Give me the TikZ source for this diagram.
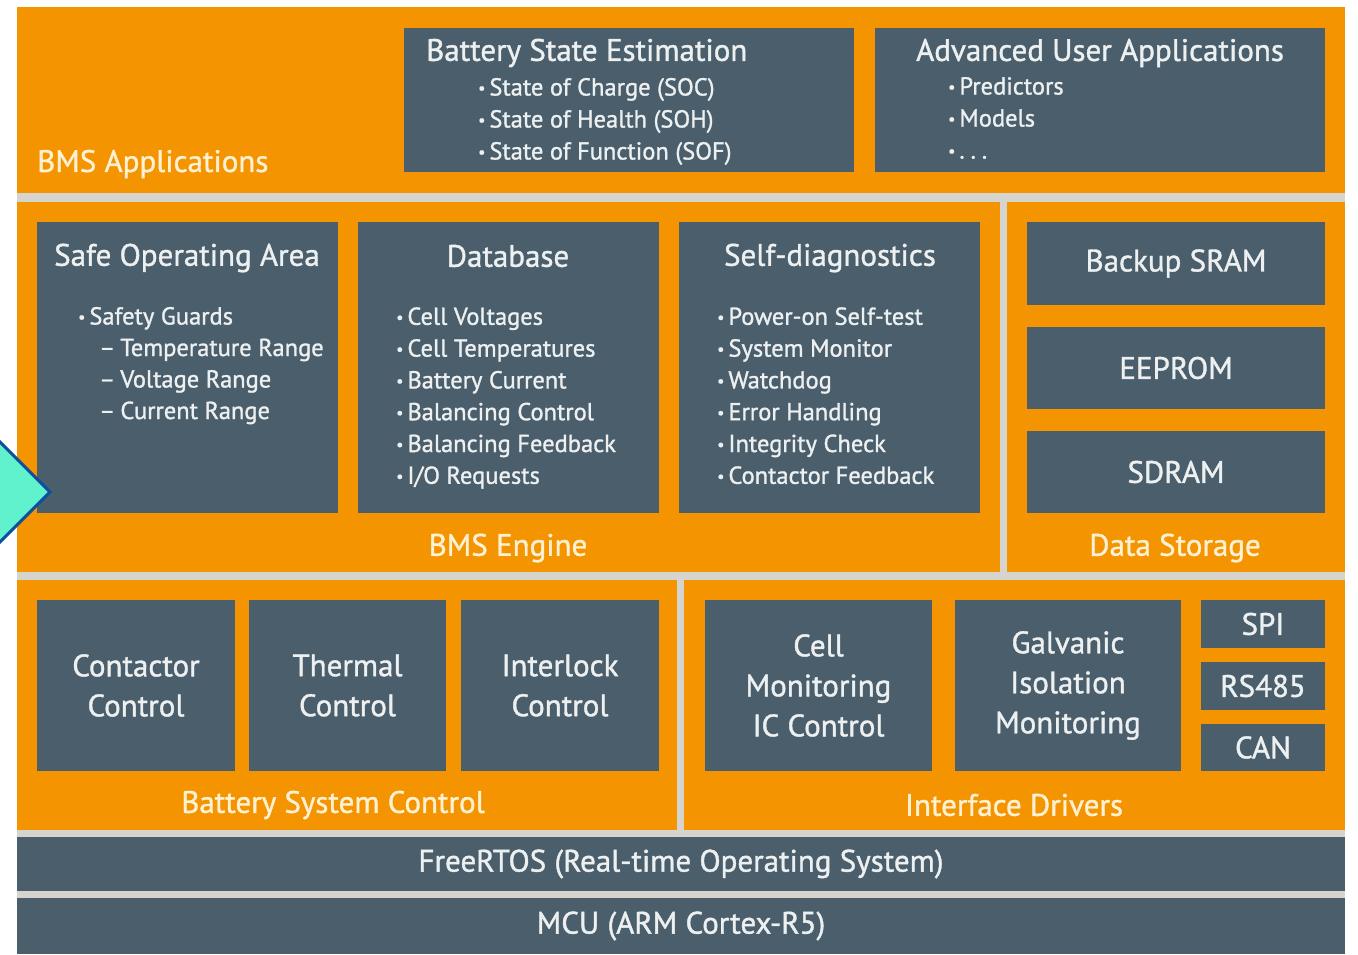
\documentclass[tikz,border=0pt]{standalone}
\usepackage{fontspec}
\setmainfont{PT Sans}[UprightFeatures={FakeBold=1.2}]
\definecolor{bmsorange}{HTML}{F39400}
\definecolor{bmsslate}{HTML}{4B5E6B}
\definecolor{bmsgap}{HTML}{D6D4CF}
\definecolor{bmscream}{HTML}{FFF1D2}
\definecolor{bmswhite}{HTML}{EDF0F1}
\definecolor{arrowfill}{HTML}{60F2CC}
\definecolor{arrowline}{HTML}{0B4F9E}
\tikzset{
  panel/.style={fill=bmsorange, draw=none, anchor=north west, inner sep=0pt, outer sep=0pt},
  blk/.style={fill=bmsslate, draw=none, anchor=north west, inner sep=0pt, outer sep=0pt,
     text=bmswhite, align=center, font=\fontsize{31}{40}\selectfont},
  title/.style={text=bmswhite, inner sep=0pt, font=\fontsize{31}{34}\selectfont},
  item/.style={text=bmswhite, inner sep=0pt, anchor=mid west, font=\fontsize{24.5}{28}\selectfont},
  plabel/.style={text=bmscream, inner sep=0pt, font=\fontsize{31}{34}\selectfont},
}
\newcommand{\bul}{{\fontsize{16}{16}\selectfont\raisebox{2pt}{•}}\hspace{4pt}}
\begin{document}
\begin{tikzpicture}[x=1pt,y=-1pt]
\useasboundingbox (0,0) rectangle (1358,954);
\fill[white] (0,0) rectangle (1358,954);
\fill[bmsgap] (17,193) rectangle (1345,954);

% panels
\node[panel, minimum width=1328pt, minimum height=186pt] (app) at (17,7) {};
\node[panel, minimum width=983pt, minimum height=370pt] (eng) at (17,202) {};
\node[panel, minimum width=338pt, minimum height=370pt] (stor) at (1007,202) {};
\node[panel, minimum width=660pt, minimum height=250pt] (bsc) at (17,580) {};
\node[panel, minimum width=661pt, minimum height=250pt] (ifd) at (684,580) {};
\node[blk, minimum width=1328pt, minimum height=54pt] (rtos) at (17,837) {FreeRTOS (Real-time Operating System)};
\node[blk, minimum width=1328pt, minimum height=56pt] (mcu) at (17,898) {MCU (ARM Cortex-R5)};

% panel labels
\node[plabel, anchor=west] (lapp) at (37,164) {BMS Applications};
\node[plabel] (leng) at (508,548) {BMS Engine};
\node[plabel] (lstor) at (1175,548) {Data Storage};
\node[plabel] (lbsc) at (333,805) {Battery System Control};
\node[plabel] (lifd) at (1014,805) {Interface Drivers};

% BMS applications boxes
\node[blk, minimum width=450pt, minimum height=144pt] (bse) at (404,28) {};
\node[title, anchor=west] (tbse) at (426,53) {Battery State Estimation};
\node[item] (bse1) at (478,93) {\bul State of Charge (SOC)};
\node[item] (bse2) at (478,125) {\bul State of Health (SOH)};
\node[item] (bse3) at (478,157) {\bul State of Function (SOF)};
\node[blk, minimum width=450pt, minimum height=144pt] (aua) at (875,28) {};
\node[title, anchor=west] (taua) at (916,53) {Advanced User Applications};
\node[item] (aua1) at (948,92) {\bul Predictors};
\node[item] (aua2) at (948,124) {\bul Models};
\node[item] (aua3) at (948,156) {\bul .\hspace{6pt}.\hspace{6pt}.};

% BMS engine boxes
\node[blk, minimum width=301pt, minimum height=291pt] (soa) at (37,222) {};
\node[title] (tsoa) at (187,258) {Safe Operating Area};
\node[item] (soa0) at (78,322) {\bul Safety Guards};
\node[item] (soa1) at (99,353.5) {–\hspace{5pt}Temperature Range};
\node[item] (soa2) at (99,385) {–\hspace{5pt}Voltage Range};
\node[item] (soa3) at (99,416.5) {–\hspace{5pt}Current Range};

\node[blk, minimum width=301pt, minimum height=291pt] (db) at (358,222) {};
\node[title] (tdb) at (508,256) {Database};
\foreach \t [count=\i] in {Cell Voltages, Cell Temperatures, Battery Current, Balancing Control, Balancing Feedback, I/O Requests}
  \node[item] (db\i) at (396,290.5+31.8*\i) {\bul\t};

\node[blk, minimum width=301pt, minimum height=291pt] (sd) at (679,222) {};
\node[title] (tsd) at (830,258) {Self-diagnostics};
\foreach \t [count=\i] in {Power-on Self-test, System Monitor, Watchdog, Error Handling, Integrity Check, Contactor Feedback}
  \node[item] (sd\i) at (717,290.5+31.8*\i) {\bul\t};

% data storage
\node[blk, minimum width=298pt, minimum height=83pt] (sram) at (1027,222) {Backup SRAM};
\node[blk, minimum width=298pt, minimum height=82pt] (eeprom) at (1027,327) {EEPROM};
\node[blk, minimum width=298pt, minimum height=82pt] (sdram) at (1027,431) {SDRAM};

% battery system control
\node[blk, minimum width=198pt, minimum height=171pt] (cc) at (37,600) {Contactor\\Control};
\node[blk, minimum width=197pt, minimum height=171pt] (tc) at (249,600) {Thermal\\Control};
\node[blk, minimum width=198pt, minimum height=171pt] (ic) at (461,600) {Interlock\\Control};

% interface drivers
\node[blk, minimum width=227pt, minimum height=171pt] (cm) at (705,600) {Cell\\Monitoring\\IC Control};
\node[blk, minimum width=226pt, minimum height=171pt] (gi) at (955,600) {Galvanic\\Isolation\\Monitoring};
\node[blk, minimum width=124pt, minimum height=48pt] (spi) at (1201,600) {SPI};
\node[blk, minimum width=124pt, minimum height=48pt] (rs) at (1201,662) {RS485};
\node[blk, minimum width=124pt, minimum height=47pt] (can) at (1201,724) {CAN};

% cyan marker
\filldraw[fill=arrowfill, draw=arrowline, line width=3pt, line join=miter]
  (-12,430) -- (50,492) -- (-12,554) -- cycle;
\end{tikzpicture}
\end{document}
